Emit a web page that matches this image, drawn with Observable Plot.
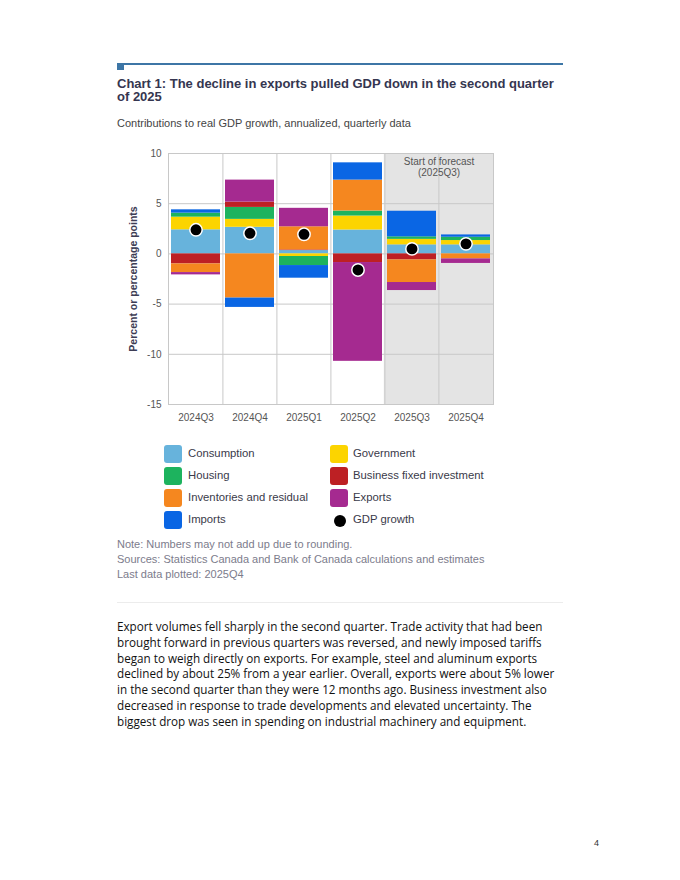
<!DOCTYPE html>
<html>
<head>
<meta charset="utf-8">
<script src="https://cdn.jsdelivr.net/npm/d3@7"></script>
<script src="https://cdn.jsdelivr.net/npm/@observablehq/plot@0.6"></script>
<style>
  html, body { margin: 0; padding: 0; background: #fff; }
  body { width: 680px; height: 880px; position: relative; font-family: "Liberation Sans", Arial, sans-serif; overflow: hidden; }
  .abs { position: absolute; }
  #topbar { left: 117px; top: 63px; width: 446px; height: 2px; background: #3d76a6; }
  #topsq { left: 117px; top: 63px; width: 7px; height: 7px; background: #3d76a6; }
  #title { left: 117px; top: 77px; width: 450px; font-size: 13px; font-weight: bold; color: #353650; line-height: 13px; }
  #subtitle { left: 117px; top: 117px; font-size: 11px; color: #444; }
  #chart { left: 0; top: 140px; }
  .leg { position: absolute; font-size: 11.3px; color: #3a3a4a; }
  .sw { position: absolute; width: 18px; height: 18px; border-radius: 3px; }
  .notes { left: 117px; top: 537px; font-size: 11px; color: #7c7c8c; line-height: 15px; }
  #sep { left: 117px; top: 602px; width: 446px; height: 1px; background: #ececec; }
  #para { left: 117px; top: 619px; font-family: "Open Sans", sans-serif; font-size: 11.7px; line-height: 15.8px; color: #111; white-space: nowrap; }
  #pnum { left: 594px; top: 838px; font-size: 9px; color: #333; }
</style>
</head>
<body>
<div class="abs" id="topbar"></div>
<div class="abs" id="topsq"></div>
<div class="abs" id="title">Chart 1: The decline in exports pulled GDP down in the second quarter of 2025</div>
<div class="abs" id="subtitle">Contributions to real GDP growth, annualized, quarterly data</div>
<div class="abs" id="chart"></div>
<div id="legend"></div>
<div class="abs notes">Note: Numbers may not add up due to rounding.<br>Sources: Statistics Canada and Bank of Canada calculations and estimates<br>Last data plotted: 2025Q4</div>
<div class="abs" id="sep"></div>
<div class="abs" id="para">Export volumes fell sharply in the second quarter. Trade activity that had been<br>brought forward in previous quarters was reversed, and newly imposed tariffs<br>began to weigh directly on exports. For example, steel and aluminum exports<br>declined by about 25% from a year earlier. Overall, exports were about 5% lower<br>in the second quarter than they were 12 months ago. Business investment also<br>decreased in response to trade developments and elevated uncertainty. The<br>biggest drop was seen in spending on industrial machinery and equipment.</div>
<div class="abs" id="pnum">4</div>
<script>
const categories = ["2024Q3", "2024Q4", "2025Q1", "2025Q2", "2025Q3", "2025Q4"];
const forecastCategories = ["2025Q3", "2025Q4"];
const seriesNames = ["Consumption", "Government", "Housing", "Business fixed investment", "Inventories and residual", "Exports", "Imports"];
const consumption = [2.4, 2.65, 0.33, 2.38, 0.9, 0.9];
const government = [1.26, 0.79, -0.26, 1.39, 0.55, 0.43];
const housing = [0.4, 1.19, -0.9, 0.5, 0.25, 0.33];
const businessInvestment = [-1.0, 0.53, 0.07, -0.86, -0.6, 0];
const inventories = [-0.86, -4.4, 2.3, 3.08, -2.25, -0.5];
const exportsC = [-0.23, 2.19, 1.84, -9.84, -0.8, -0.45];
const importsC = [0.33, -0.93, -1.26, 1.72, 2.55, 0.23];
const gdpGrowth = [2.4, 2.05, 1.95, -1.6, 0.5, 1.0];
const yTicks = [-15, -10, -5, 0, 5, 10];
const seriesColors = ["#67b3dc", "#fcd400", "#1db35e", "#bd2024", "#f5871f", "#a52a90", "#0a66e4"];

const seriesValues = [consumption, government, housing, businessInvestment, inventories, exportsC, importsC];
const rows = [];
seriesNames.forEach((name, s) => categories.forEach((c, i) => rows.push({quarter: c, series: name, value: seriesValues[s][i]})));
const gdpRows = categories.map((c, i) => ({quarter: c, value: gdpGrowth[i]}));

const step = 325 / 6;
const chart = Plot.plot({
  width: 680,
  height: 290,
  marginLeft: 168,
  marginRight: 187,
  marginTop: 13,
  marginBottom: 26,
  style: {fontFamily: "Liberation Sans, Arial, sans-serif", fontSize: "10px", color: "#555", background: "transparent"},
  x: {domain: categories, paddingInner: 0.1, paddingOuter: 0.05, label: null},
  y: {domain: [-15, 10], ticks: yTicks, label: null},
  color: {domain: seriesNames, range: seriesColors},
  marks: [
    Plot.barY(forecastCategories, {x: d => d, y1: -15, y2: 10, fill: "#e4e4e4", insetLeft: -step * 0.05 - 0.5, insetRight: -step * 0.05 - 0.5}),
    Plot.ruleY(yTicks, {stroke: "#c8c8c8", strokeWidth: 1}),
    Plot.ruleX(categories.slice(1), {x: d => d, dx: -step / 2, stroke: "#c8c8c8", strokeWidth: 1}),
    Plot.frame({stroke: "#c8c8c8"}),
    Plot.barY(rows, {x: "quarter", y: "value", fill: "series", order: seriesNames}),
    Plot.dot(gdpRows, {x: "quarter", y: "value", r: 6.2, fill: "#000", stroke: "#fff", strokeWidth: 1.5}),
    Plot.text(["Start of forecast\n(2025Q3)"], {x: () => "2025Q3", y: () => 10, dx: step / 2, dy: 3, lineAnchor: "top", text: d => d, fill: "#555", fontSize: 10, lineHeight: 1.15}),
    Plot.text(["Percent or percentage points"], {frameAnchor: "left", textAnchor: "middle", rotate: -90, dx: -35, text: d => d, fontWeight: "bold", fontSize: 10.5, fill: "#3d3d55"}),
    Plot.axisY({ticks: yTicks, tickSize: 0, tickPadding: 7, tickFormat: d => String(d), label: null, fill: "#555"}),
    Plot.axisX({tickSize: 0, tickPadding: 9, label: null, fill: "#555"})
  ]
});
document.getElementById("chart").appendChild(chart);

// legend
const legend = document.getElementById("legend");
const legendItems = [
  [seriesNames[0], seriesColors[0]], [seriesNames[1], seriesColors[1]],
  [seriesNames[2], seriesColors[2]], [seriesNames[3], seriesColors[3]],
  [seriesNames[4], seriesColors[4]], [seriesNames[5], seriesColors[5]],
  [seriesNames[6], seriesColors[6]], ["GDP growth", null]
];
legendItems.forEach(([name, color], i) => {
  const col = i % 2, row = Math.floor(i / 2);
  const cy = 454 + row * 22;
  const sx = col === 0 ? 164 : 330;
  const tx = col === 0 ? 188 : 353;
  const sw = document.createElement("div");
  sw.className = "sw";
  if (color) {
    sw.style.left = sx + "px"; sw.style.top = (cy - 9) + "px"; sw.style.background = color;
  } else {
    sw.style.left = (sx + 4) + "px"; sw.style.top = (cy - 5) + "px";
    sw.style.width = "12px"; sw.style.height = "12px"; sw.style.borderRadius = "50%"; sw.style.background = "#000";
  }
  legend.appendChild(sw);
  const t = document.createElement("div");
  t.className = "leg";
  t.style.left = tx + "px"; t.style.top = (cy - 7) + "px";
  t.textContent = name;
  legend.appendChild(t);
});
</script>
</body>
</html>
